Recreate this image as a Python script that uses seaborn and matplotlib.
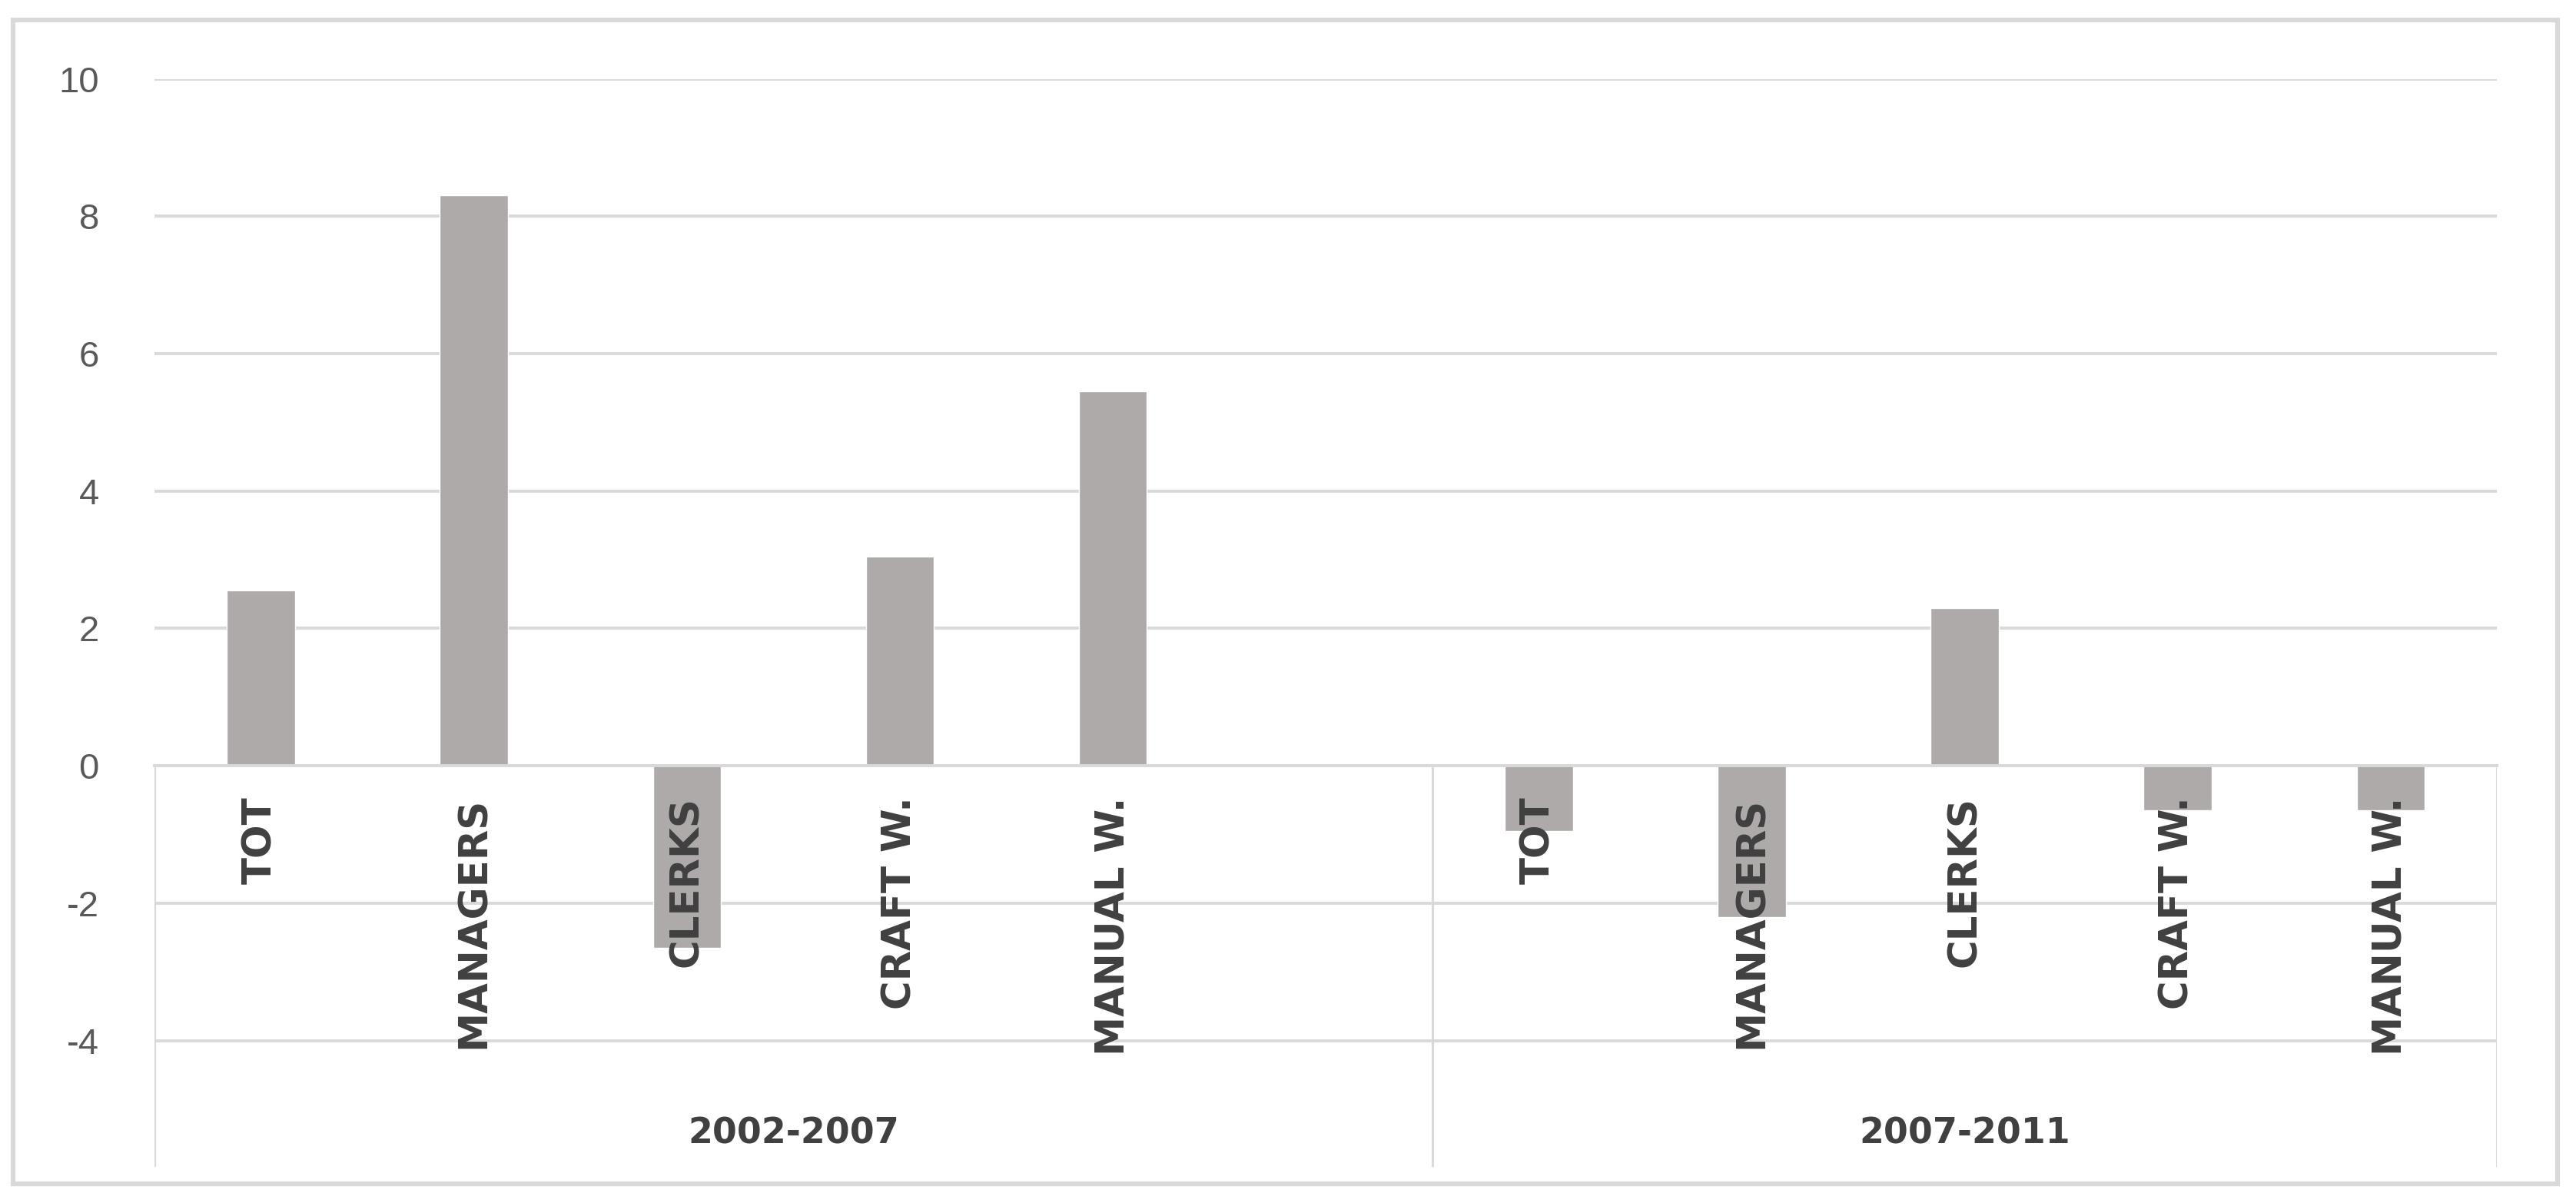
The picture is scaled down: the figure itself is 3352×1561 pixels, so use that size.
import pandas as pd
import matplotlib.pyplot as plt
import seaborn as sns
from matplotlib.patches import Rectangle

# Data
periods = ["2002-2007", "2007-2011"]
occupations = ["TOT", "MANAGERS", "CLERKS", "CRAFT W.", "MANUAL W."]
change_2002_2007 = [2.55, 8.3, -2.65, 3.05, 5.45]
change_2007_2011 = [-0.95, -2.2, 2.3, -0.65, -0.65]
y_ticks = [-4, -2, 0, 2, 4, 6, 8, 10]

# Build long table; first period has one empty slot at its end
rows = []
for period, values in zip(periods, [change_2002_2007, change_2007_2011]):
    for occ, val in zip(occupations, values):
        rows.append({"slot": f"{period}|{occ}", "period": period, "occupation": occ, "change": val})
df = pd.DataFrame(rows)

order = [f"{periods[0]}|{o}" for o in occupations] + ["gap"] + [f"{periods[1]}|{o}" for o in occupations]
tick_labels = occupations + [""] + occupations

sns.set_style("white")
plt.rcParams["font.family"] = ["DejaVu Sans"]
plt.rcParams["axes.unicode_minus"] = False

fig = plt.figure(figsize=(33.52, 15.61), dpi=100)
ax = fig.add_axes([0.0600, 0.0275, 0.9094, 0.9068])

sns.barplot(data=df, x="slot", y="change", order=order, color="#AEAAAA",
            width=0.32, saturation=1, ax=ax, zorder=2)

grid_color = "#D9D9D9"
x_lo, x_hi = -0.5, len(order) - 0.5
ax.set_ylim(-5.84, 10)
ax.set_xlim(x_lo, x_hi)
ax.set_yticks(y_ticks)
# gridlines behind the bars, tick labels on top of them
ax.set_axisbelow(False)
ax.hlines(y_ticks, x_lo, x_hi, color=grid_color, linewidth=2.8, zorder=0.8)

# x axis sits at zero
for side in ["top", "right", "left"]:
    ax.spines[side].set_visible(False)
ax.spines["bottom"].set_position(("data", 0))
ax.spines["bottom"].set_color(grid_color)
ax.spines["bottom"].set_linewidth(2.8)
ax.spines["bottom"].set_zorder(3)

ax.set_xticks(range(len(order)))
ax.set_xticklabels(tick_labels, rotation=90, va="top", ha="center",
                   fontsize=37, fontweight="bold", color="#404040")
ax.tick_params(axis="x", length=0, pad=29)
ax.tick_params(axis="y", length=0, pad=52, labelsize=34, labelcolor="#595959")
for lab in ax.get_yticklabels():
    lab.set_family(["Liberation Sans Narrow", "Liberation Sans"])

# group separators and period labels
ax.vlines([x_lo, 5.5, x_hi], -5.84, 0, color=grid_color, linewidth=2.2, zorder=1)
centers = [2.5, 8.0]
for period, cx in zip(periods, centers):
    ax.text(cx, -5.36, period, ha="center", va="center", fontsize=33,
            fontweight="bold", color="#404040")

ax.set_xlabel("")
ax.set_ylabel("")

# outer chart border
fig.patches.append(Rectangle((0.0051, 0.0137), 0.9878, 0.9699, transform=fig.transFigure,
                             fill=False, edgecolor=grid_color, linewidth=4.5))

fig.savefig("out.png", dpi=100)
